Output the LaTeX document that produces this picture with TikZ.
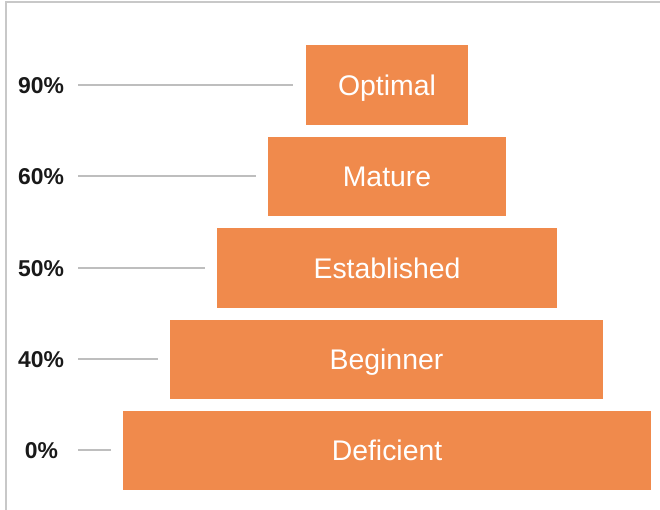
\documentclass[tikz,border=0pt]{standalone}
\usepackage{fontspec}
\setmainfont{Liberation Sans}
\definecolor{boxorange}{RGB}{240,138,76}
\definecolor{linegray}{RGB}{190,190,190}
\definecolor{framegray}{RGB}{200,200,200}
\definecolor{labelblack}{RGB}{25,25,25}
\begin{document}
\begin{tikzpicture}[x=1bp,y=-1bp,
  level/.style={fill=boxorange, draw=none, inner sep=0pt, minimum height=79bp,
    text height=20.4bp, text depth=0pt,
    text=white, font=\fontsize{28.5}{30}\selectfont},
  pct/.style={text=labelblack, inner sep=0pt, text height=16.5bp, text depth=0pt,
    font=\fontsize{23}{25}\selectfont\bfseries},
  tick/.style={draw=linegray, line width=2bp}]
\useasboundingbox (0,0) rectangle (660,510);
\draw[framegray, line width=2bp] (5.5,510) -- (5.5,2.5) -- (660,2.5);

\node[level, minimum width=162bp, minimum height=80bp] (opt) at (387,85) {Optimal};
\node[level, minimum width=238bp] (mat) at (387,176.5) {Mature};
\node[level, minimum width=340bp] (est) at (387,268) {Established};
\node[level, minimum width=433bp] (beg) at (386.5,359.5) {Beginner};
\node[level, minimum width=528bp] (def) at (387,450.5) {Deficient};

\node[pct] (p90) at (41,85.5) {90\%};
\node[pct] (p60) at (41,176.5) {60\%};
\node[pct] (p50) at (41,268) {50\%};
\node[pct] (p40) at (41,359.5) {40\%};
\node[pct] (p0) at (41.5,450.5) {0\%};

\coordinate (s90) at (78,85);
\coordinate (s60) at (78,176);
\coordinate (s50) at (78,268);
\coordinate (s40) at (78,359);
\coordinate (s0) at (78,450);

\draw[tick] (s90) -- ([xshift=-13bp]opt.west |- s90);
\draw[tick] (s60) -- ([xshift=-12bp]mat.west |- s60);
\draw[tick] (s50) -- ([xshift=-12bp]est.west |- s50);
\draw[tick] (s40) -- ([xshift=-12bp]beg.west |- s40);
\draw[tick] (s0) -- ([xshift=-12bp]def.west |- s0);
\end{tikzpicture}
\end{document}
